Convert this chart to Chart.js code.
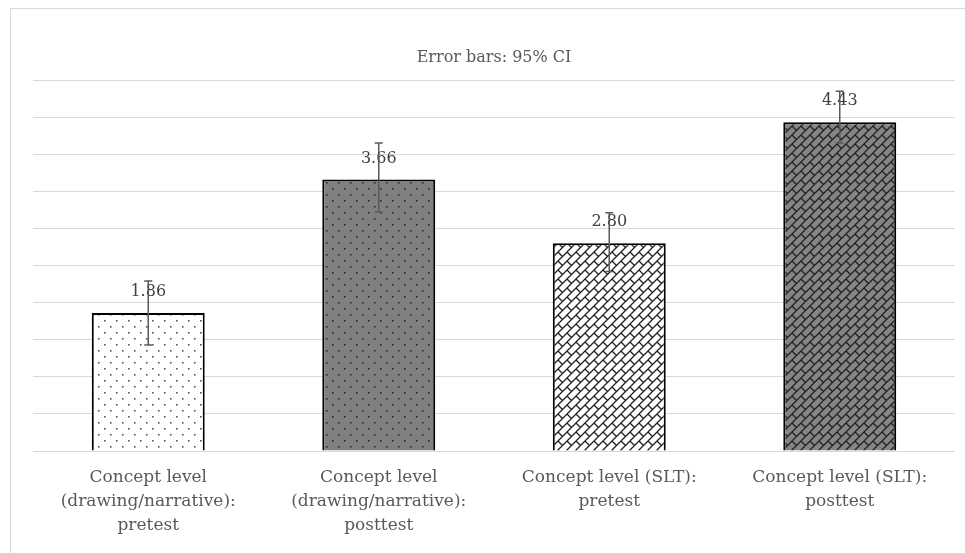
<!DOCTYPE html>
<html>
<head>
<meta charset="utf-8">
<script src="https://cdn.jsdelivr.net/npm/chart.js@4.4.0/dist/chart.umd.min.js"></script>
<style>
  html, body { margin: 0; padding: 0; background: #fff; }
  #wrap { position: relative; width: 965px; height: 553px; overflow: hidden; }
  #frame { position: absolute; left: 10px; top: 8px; width: 1000px; height: 600px; border: 1px solid #d9d9d9; }
  #chart { position: absolute; left: 0; top: 0; }
</style>
</head>
<body>
<div id="wrap">
  <div id="frame"></div>
  <canvas id="chart" width="965" height="553"></canvas>
</div>
<script>
const categories = [
  ["Concept level", "(drawing/narrative):", "pretest"],
  ["Concept level", "(drawing/narrative):", "posttest"],
  ["Concept level (SLT):", "pretest"],
  ["Concept level (SLT):", "posttest"],
]
const means = [1.86, 3.66, 2.80, 4.43]
const ciLow = [1.43, 3.22, 2.42, 4.15]
const ciHigh = [2.29, 4.15, 3.21, 4.85]
const valueLabels = ["1.86", "3.66", "2.80", "4.43"]

const FONT = "'DejaVu Serif', serif"
const TEXT = "#595959"

// Pattern fills (dots / diagonal brick weave)
function tile(size, bg, draw) {
  const c = document.createElement("canvas")
  c.width = size
  c.height = size
  const g = c.getContext("2d")
  g.fillStyle = bg
  g.fillRect(0, 0, size, size)
  draw(g, size)
  return g.createPattern(c, "repeat")
}

function dots(bg, fg) {
  return tile(12, bg, (g) => {
    g.fillStyle = fg
    g.fillRect(2, 2, 1.6, 1.6)
    g.fillRect(8, 8, 1.6, 1.6)
  })
}

function weave(bg, fg) {
  return tile(9, bg, (g, s) => {
    g.strokeStyle = fg
    g.lineWidth = 1.3
    for (const dx of [-s, 0, s]) {
      for (const dy of [-s, 0, s]) {
        g.beginPath()
        g.moveTo(dx, s + dy)
        g.lineTo(s + dx, dy)
        g.moveTo(dx, dy)
        g.lineTo(s / 2 + dx, s / 2 + dy)
        g.stroke()
      }
    }
  })
}

const fills = [
  dots("#ffffff", "#555555"),
  dots("#808080", "#2b2b2b"),
  weave("#ffffff", "#222222"),
  weave("#858585", "#222222"),
]

const valueLabelPlugin = {
  id: "valueLabels",
  afterDatasetsDraw(chart) {
    const ctx = chart.ctx
    const meta = chart.getDatasetMeta(0)
    ctx.save()
    ctx.fillStyle = "#404040"
    ctx.font = "16px " + FONT
    ctx.textAlign = "center"
    ctx.textBaseline = "middle"
    meta.data.forEach((bar, i) => {
      ctx.fillText(valueLabels[i], bar.x, bar.y - 21)
    })
    ctx.restore()
  },
}

const errorBarPlugin = {
  id: "errorBars",
  afterDatasetsDraw(chart) {
    const ctx = chart.ctx
    const y = chart.scales.y
    const meta = chart.getDatasetMeta(0)
    ctx.save()
    ctx.strokeStyle = "#595959"
    ctx.lineWidth = 1.5
    meta.data.forEach((bar, i) => {
      const top = y.getPixelForValue(ciHigh[i])
      const bottom = y.getPixelForValue(ciLow[i])
      ctx.beginPath()
      ctx.moveTo(bar.x, top)
      ctx.lineTo(bar.x, bottom)
      ctx.moveTo(bar.x - 4, top)
      ctx.lineTo(bar.x + 4, top)
      ctx.moveTo(bar.x - 4, bottom)
      ctx.lineTo(bar.x + 4, bottom)
      ctx.stroke()
    })
    ctx.restore()
  },
}

new Chart(document.getElementById("chart"), {
  type: "bar",
  data: {
    labels: categories,
    datasets: [
      {
        data: means,
        backgroundColor: fills,
        borderColor: "#000000",
        borderWidth: 2,
        categoryPercentage: 1,
        barPercentage: 0.49,
      },
    ],
  },
  options: {
    responsive: false,
    animation: false,
    layout: { padding: { left: 33, right: 10, top: 0, bottom: 0 } },
    plugins: {
      legend: { display: false },
      tooltip: { enabled: false },
      title: {
        display: true,
        text: "Error bars: 95% CI",
        color: TEXT,
        font: { family: FONT, size: 16, weight: "normal", lineHeight: 1.125 },
        padding: { top: 49, bottom: 13 },
      },
    },
    scales: {
      x: {
        grid: { display: false, drawTicks: false },
        border: { display: false },
        ticks: {
          color: TEXT,
          font: { family: FONT, size: 17, lineHeight: 24 / 17 },
          padding: 15,
          maxRotation: 0,
          autoSkip: false,
        },
      },
      y: {
        min: 0,
        max: 5,
        ticks: { display: false, stepSize: 0.5 },
        grid: { color: "#d9d9d9", drawTicks: false },
        border: { display: false },
      },
    },
  },
  plugins: [valueLabelPlugin, errorBarPlugin],
})
</script>
</body>
</html>
